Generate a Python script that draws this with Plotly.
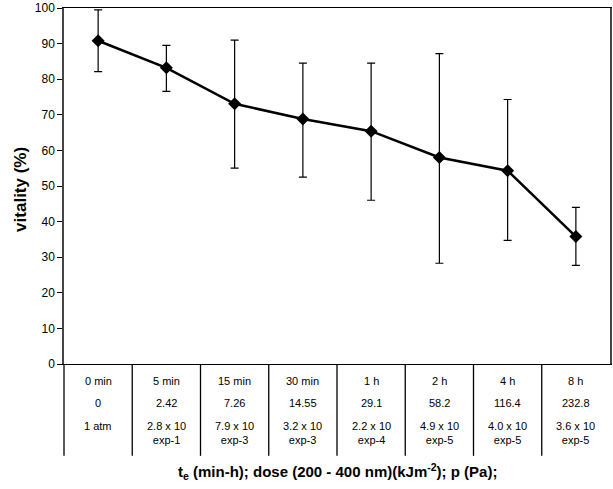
import plotly.graph_objects as go

times = ["0 min", "5 min", "15 min", "30 min", "1 h", "2 h", "4 h", "8 h"]
doses = ["0", "2.42", "7.26", "14.55", "29.1", "58.2", "116.4", "232.8"]
pressures = ["1 atm", "2.8 x 10<br>exp-1", "7.9 x 10<br>exp-3", "3.2 x 10<br>exp-3",
             "2.2 x 10<br>exp-4", "4.9 x 10<br>exp-5", "4.0 x 10<br>exp-5", "3.6 x 10<br>exp-5"]
vitality = [90.8, 83.2, 73.1, 68.8, 65.4, 58.0, 54.3, 35.8]
err_plus = [8.7, 6.3, 17.9, 15.7, 19.1, 29.2, 20.0, 8.2]
err_minus = [8.7, 6.6, 18.1, 16.3, 19.4, 29.7, 19.6, 8.1]

x = list(range(1, len(times) + 1))
FONT = "Liberation Sans, Arial, sans-serif"

fig = go.Figure()
fig.add_trace(go.Scatter(
    x=x, y=vitality, mode="lines+markers",
    line=dict(color="black", width=2.5),
    marker=dict(symbol="diamond", size=10, color="black"),
    error_y=dict(type="data", symmetric=False, array=err_plus, arrayminus=err_minus,
                 color="black", thickness=1.2, width=4),
    cliponaxis=False, showlegend=False,
))

n = len(times)
def px(v):
    return (v - 0.5) / n

shapes = []
for i in range(n):
    b = i + 0.5
    shapes.append(dict(type="line", xref="paper", yref="paper", x0=px(b), x1=px(b),
                       y0=0, y1=-0.258, line=dict(color="black", width=1.3)))

annotations = []
tfont = dict(family=FONT, size=11, color="black")
for i in range(n):
    xp = px(i + 1)
    annotations.append(dict(xref="paper", yref="paper", x=xp, y=-0.048, text=times[i],
                            showarrow=False, font=tfont, xanchor="center", yanchor="middle"))
    annotations.append(dict(xref="paper", yref="paper", x=xp, y=-0.110, text=doses[i],
                            showarrow=False, font=tfont, xanchor="center", yanchor="middle"))
    annotations.append(dict(xref="paper", yref="paper", x=xp, y=-0.152, text=pressures[i],
                            showarrow=False, font=tfont, xanchor="center", yanchor="top",
                            align="center"))

annotations.append(dict(xref="paper", yref="paper", x=0.5, y=-0.303, xanchor="center",
                        text="<b>t<sub>e</sub> (min-h); dose (200 - 400 nm)(kJm<sup>-2</sup>); p (Pa);</b>",
                        showarrow=False, yanchor="middle",
                        font=dict(family=FONT, size=15, color="black")))
annotations.append(dict(xref="paper", yref="paper", x=-0.080, y=0.49, xanchor="center",
                        yanchor="middle",
                        text="<b>vitality (%)</b>", textangle=-90, showarrow=False,
                        font=dict(family=FONT, size=17, color="black")))

fig.update_layout(
    width=613, height=489,
    margin=dict(l=64, r=1, t=8, b=125),
    paper_bgcolor="white", plot_bgcolor="white",
    xaxis=dict(range=[0.5, n + 0.5], showticklabels=False, ticks="", showgrid=False,
               zeroline=False, showline=True, linecolor="black", linewidth=1.3, mirror=True),
    yaxis=dict(range=[0, 100], tickvals=list(range(0, 101, 10)), ticks="outside", ticklen=5,
               tickcolor="black", showgrid=False, zeroline=False, showline=True,
               linecolor="#444", linewidth=1.5, mirror=True,
               tickfont=dict(family=FONT, size=12, color="black")),
    shapes=shapes, annotations=annotations,
)

fig.write_html("out.html")
